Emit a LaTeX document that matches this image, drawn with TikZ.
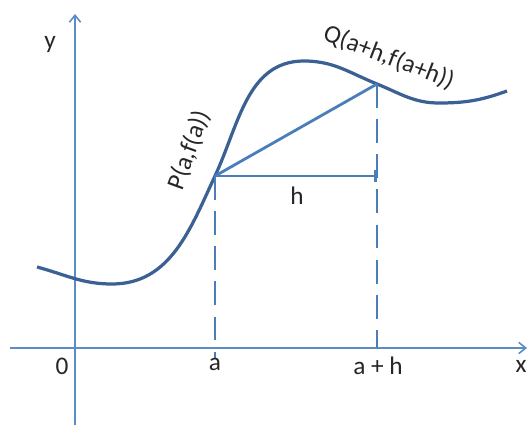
\documentclass[tikz,border=0pt]{standalone}
\usepackage{fontspec}
\setmainfont{Carlito}
\usetikzlibrary{arrows.meta}

\definecolor{axisblue}{RGB}{91,140,200}
\definecolor{curveblue}{RGB}{58,96,148}
\definecolor{lineblue}{RGB}{74,126,187}

\begin{document}
\begin{tikzpicture}[>={Straight Barb[length=5pt,width=8pt]},
      axis/.style={draw=axisblue, line width=1.1pt},
      curve/.style={draw=curveblue, line width=2.3pt},
      chord/.style={draw=lineblue, line width=2pt},
      dashline/.style={draw=lineblue, line width=2pt, dash pattern=on 17pt off 8pt},
      lbl/.style={font=\fontsize{18}{21}\selectfont, text=black!85}]

    \useasboundingbox (-1.875,-1.925) rectangle (11.35,8.7);

    % ---- Axes ----
    \coordinate (O) at (0,0);
    \coordinate (xend) at (11.3,0);
    \coordinate (xstart) at (-1.625,0);
    \coordinate (yend) at (0,8.35);
    \coordinate (ystart) at (0,-1.925);
    \draw[axis, ->] (xstart) -- (xend);
    \draw[axis, ->] (ystart) -- (yend);

    % ---- Points on the curve ----
    \coordinate (P) at (3.5,4.3);
    \coordinate (Q) at (7.55,6.6);
    \coordinate (H) at (P -| Q);

    % ---- Curve ----
    \draw[curve] (-0.95,2.025) to[out=-15,in=180] (0.925,1.6)
        to[out=0,in=245] (P) to[out=65,in=180] (5.725,7.175)
        to[out=0,in=158] (Q) to[out=-22,in=180] (9.1,6.125)
        to[out=0,in=200] (10.8,6.425);

    % ---- Secant, run and drop lines ----
    \draw[chord] (P) -- (Q);
    \draw[chord, -{Bar[width=9pt]}] (P) -- (H);
    \draw[dashline] (P) -- ([yshift=-0.27cm]P |- O);
    \draw[dashline] (Q) -- (Q |- O);

    % ---- Labels ----
    \node[lbl] (ylbl) at (-0.625,7.575) {y};
    \node[lbl] (zlbl) at (-0.325,-0.45) {0};
    \node[lbl] (albl) at (3.5,-0.42) {a};
    \node[lbl] (ahlbl) at (7.575,-0.45) {a + h};
    \node[lbl] (xlbl) at (11.15,-0.45) {x};
    \node[lbl] (hlbl) at (5.55,3.8) {h};
    \node[lbl, rotate=70] (Plbl) at (2.85,4.95) {P(a,f(a))};
    \node[lbl, rotate=-21] (Qlbl) at (7.85,7.27) {Q(a+h,f(a+h))};

\end{tikzpicture}
\end{document}
